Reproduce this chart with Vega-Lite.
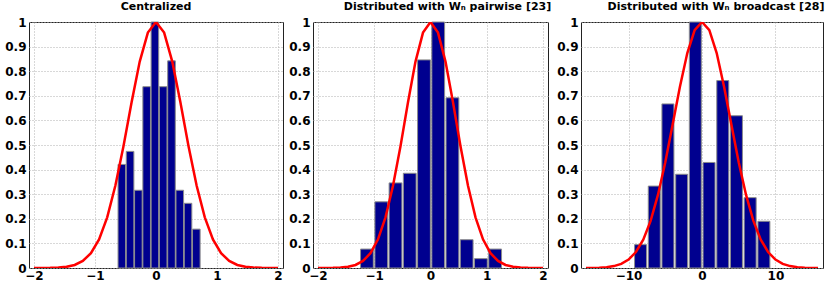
{
  "$schema": "https://vega.github.io/schema/vega-lite/v6.json",
  "background": "white",
  "padding": {"left": 4, "top": 0, "right": 4, "bottom": 0},
  "datasets": {
    "bars1": [
      {"x": -0.56, "y": 0.421}, {"x": -0.425, "y": 0.474}, {"x": -0.289, "y": 0.316}, {"x": -0.153, "y": 0.737}, {"x": -0.018, "y": 1.0},
      {"x": 0.118, "y": 0.737}, {"x": 0.254, "y": 0.842}, {"x": 0.39, "y": 0.316}, {"x": 0.525, "y": 0.263}, {"x": 0.661, "y": 0.158}
    ],
    "bars2": [
      {"x": -1.13, "y": 0.077}, {"x": -0.875, "y": 0.269}, {"x": -0.622, "y": 0.346}, {"x": -0.369, "y": 0.385}, {"x": -0.116, "y": 0.846},
      {"x": 0.137, "y": 1.0}, {"x": 0.39, "y": 0.692}, {"x": 0.643, "y": 0.115}, {"x": 0.896, "y": 0.038}, {"x": 1.149, "y": 0.077}
    ],
    "bars3": [
      {"x": -8.37, "y": 0.095}, {"x": -6.5, "y": 0.333}, {"x": -4.64, "y": 0.667}, {"x": -2.77, "y": 0.381}, {"x": -0.91, "y": 1.0},
      {"x": 0.96, "y": 0.429}, {"x": 2.83, "y": 0.762}, {"x": 4.69, "y": 0.619}, {"x": 6.56, "y": 0.286}, {"x": 8.43, "y": 0.19}
    ],
    "curve12": [
      {"x": -2.0, "y": 0.00005}, {"x": -1.8667, "y": 0.00018}, {"x": -1.7333, "y": 0.0006}, {"x": -1.6, "y": 0.0018},
      {"x": -1.4667, "y": 0.0049}, {"x": -1.3333, "y": 0.0124}, {"x": -1.2, "y": 0.0286}, {"x": -1.0667, "y": 0.0602},
      {"x": -0.9333, "y": 0.1164}, {"x": -0.8, "y": 0.206}, {"x": -0.6667, "y": 0.334}, {"x": -0.5333, "y": 0.495},
      {"x": -0.4, "y": 0.674}, {"x": -0.2667, "y": 0.839}, {"x": -0.1333, "y": 0.957}, {"x": 0.0, "y": 1.0},
      {"x": 0.1333, "y": 0.957}, {"x": 0.2667, "y": 0.839}, {"x": 0.4, "y": 0.674}, {"x": 0.5333, "y": 0.495},
      {"x": 0.6667, "y": 0.334}, {"x": 0.8, "y": 0.206}, {"x": 0.9333, "y": 0.1164}, {"x": 1.0667, "y": 0.0602},
      {"x": 1.2, "y": 0.0286}, {"x": 1.3333, "y": 0.0124}, {"x": 1.4667, "y": 0.0049}, {"x": 1.6, "y": 0.0018},
      {"x": 1.7333, "y": 0.0006}, {"x": 1.8667, "y": 0.00018}, {"x": 2.0, "y": 0.00005}
    ],
    "curve3": [
      {"x": -15.8, "y": 0.0002}, {"x": -15, "y": 0.0005}, {"x": -14, "y": 0.00134}, {"x": -13, "y": 0.00334}, {"x": -12, "y": 0.00776},
      {"x": -11, "y": 0.0169}, {"x": -10, "y": 0.0343}, {"x": -9, "y": 0.065}, {"x": -8, "y": 0.1154}, {"x": -7, "y": 0.1914},
      {"x": -6, "y": 0.297}, {"x": -5, "y": 0.43}, {"x": -4, "y": 0.583}, {"x": -3, "y": 0.738}, {"x": -2, "y": 0.874},
      {"x": -1, "y": 0.967}, {"x": 0, "y": 1.0}, {"x": 1, "y": 0.967}, {"x": 2, "y": 0.874}, {"x": 3, "y": 0.738},
      {"x": 4, "y": 0.583}, {"x": 5, "y": 0.43}, {"x": 6, "y": 0.297}, {"x": 7, "y": 0.1914}, {"x": 8, "y": 0.1154},
      {"x": 9, "y": 0.065}, {"x": 10, "y": 0.0343}, {"x": 11, "y": 0.0169}, {"x": 12, "y": 0.00776}, {"x": 13, "y": 0.00334},
      {"x": 14, "y": 0.00134}, {"x": 15, "y": 0.0005}, {"x": 15.8, "y": 0.0002}
    ]
  },
  "hconcat": [
    {
      "width": 254, "height": 246,
      "title": {"text": "Centralized"},
      "layer": [
        {
          "data": {"name": "bars1"},
          "mark": {"type": "bar", "width": 7.6, "color": "#00008F", "stroke": "#8c8c8c", "strokeWidth": 1},
          "encoding": {
            "x": {"field": "x", "type": "quantitative", "scale": {"domain": [-2, 2], "nice": false}, "axis": {"values": [-2, -1, 0, 1, 2], "format": "d"}},
            "y": {"field": "y", "type": "quantitative", "scale": {"domain": [0, 1], "nice": false}, "axis": {"values": [0, 0.1, 0.2, 0.3, 0.4, 0.5, 0.6, 0.7, 0.8, 0.9, 1], "format": ".1~f"}}
          }
        },
        {
          "data": {"name": "curve12"},
          "mark": {"type": "line", "color": "#FF0000", "strokeWidth": 2.5, "clip": true},
          "encoding": {
            "x": {"field": "x", "type": "quantitative", "axis": {"values": [-2, -1, 0, 1, 2], "format": "d"}},
            "y": {"field": "y", "type": "quantitative", "axis": {"values": [0, 0.1, 0.2, 0.3, 0.4, 0.5, 0.6, 0.7, 0.8, 0.9, 1], "format": ".1~f"}}
          }
        }
      ]
    },
    {
      "width": 235, "height": 246,
      "title": {"text": "Distributed with Wₙ pairwise [23]", "dx": 17},
      "layer": [
        {
          "data": {"name": "bars2"},
          "mark": {"type": "bar", "width": 12.8, "color": "#00008F", "stroke": "#8c8c8c", "strokeWidth": 1},
          "encoding": {
            "x": {"field": "x", "type": "quantitative", "scale": {"domain": [-2, 2], "nice": false}, "axis": {"values": [-2, -1, 0, 1, 2], "format": "d"}},
            "y": {"field": "y", "type": "quantitative", "scale": {"domain": [0, 1], "nice": false}, "axis": {"values": [0, 0.1, 0.2, 0.3, 0.4, 0.5, 0.6, 0.7, 0.8, 0.9, 1], "format": ".1~f"}}
          }
        },
        {
          "data": {"name": "curve12"},
          "mark": {"type": "line", "color": "#FF0000", "strokeWidth": 2.5, "clip": true},
          "encoding": {
            "x": {"field": "x", "type": "quantitative", "axis": {"values": [-2, -1, 0, 1, 2], "format": "d"}},
            "y": {"field": "y", "type": "quantitative", "axis": {"values": [0, 0.1, 0.2, 0.3, 0.4, 0.5, 0.6, 0.7, 0.8, 0.9, 1], "format": ".1~f"}}
          }
        }
      ]
    },
    {
      "width": 242, "height": 246,
      "title": {"text": "Distributed with Wₙ broadcast [28]", "dx": 14},
      "layer": [
        {
          "data": {"name": "bars3"},
          "mark": {"type": "bar", "width": 12, "color": "#00008F", "stroke": "#8c8c8c", "strokeWidth": 1},
          "encoding": {
            "x": {"field": "x", "type": "quantitative", "scale": {"domain": [-15.8, 15.8], "nice": false}, "axis": {"values": [-10, 0, 10], "format": "d"}},
            "y": {"field": "y", "type": "quantitative", "scale": {"domain": [0, 1], "nice": false}, "axis": {"values": [0, 0.1, 0.2, 0.3, 0.4, 0.5, 0.6, 0.7, 0.8, 0.9, 1], "format": ".1~f"}}
          }
        },
        {
          "data": {"name": "curve3"},
          "mark": {"type": "line", "color": "#FF0000", "strokeWidth": 2.5, "clip": true},
          "encoding": {
            "x": {"field": "x", "type": "quantitative", "axis": {"values": [-10, 0, 10], "format": "d"}},
            "y": {"field": "y", "type": "quantitative", "axis": {"values": [0, 0.1, 0.2, 0.3, 0.4, 0.5, 0.6, 0.7, 0.8, 0.9, 1], "format": ".1~f"}}
          }
        }
      ]
    }
  ],
  "config": {
    "view": {"stroke": "#222222", "strokeWidth": 1},
    "concat": {"spacing": 4},
    "axis": {
      "labelFont": "DejaVu Sans", "labelFontWeight": "bold", "labelFontSize": 12, "labelColor": "black",
      "domain": false, "ticks": false, "grid": true, "gridColor": "#b0b0b0", "gridDash": [1, 2], "gridWidth": 1,
      "labelPadding": 3, "labelOverlap": false, "labelFlush": false, "title": null
    },
    "axisX": {"labelPadding": 2},
    "title": {"font": "DejaVu Sans", "fontSize": 11, "fontWeight": "bold", "color": "black", "offset": 4, "anchor": "middle"}
  }
}
